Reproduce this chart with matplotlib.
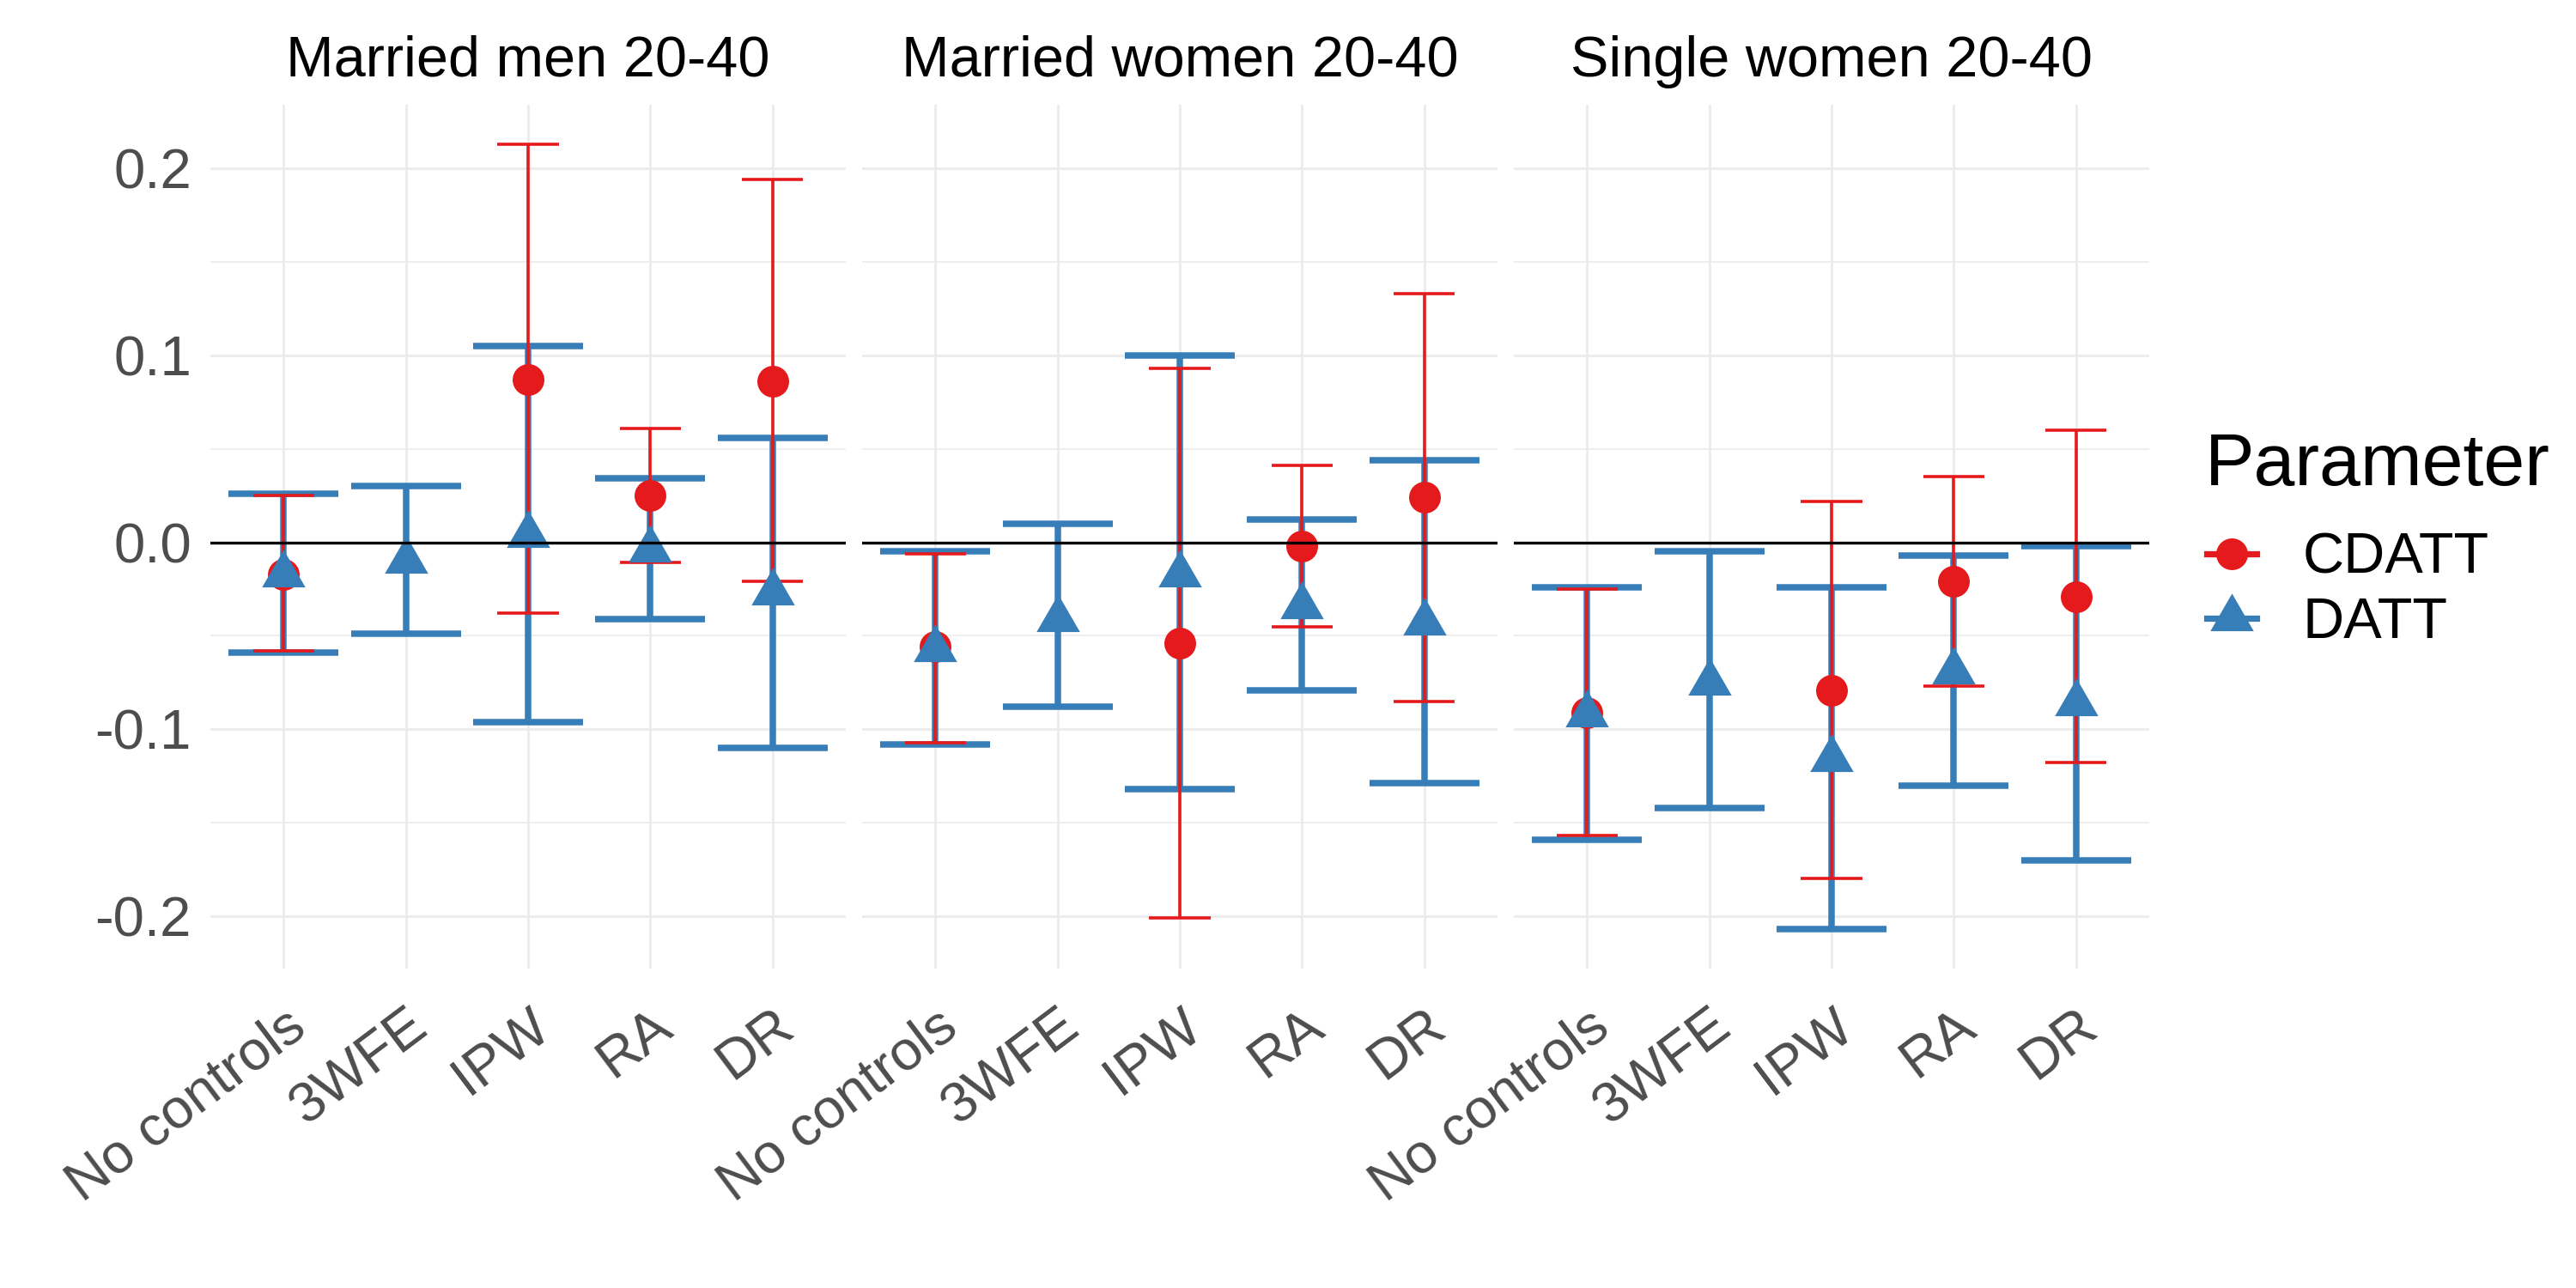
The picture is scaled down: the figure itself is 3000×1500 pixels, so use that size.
import matplotlib
matplotlib.use("Agg")
import matplotlib.pyplot as plt
from matplotlib.path import Path
from matplotlib.lines import Line2D
import numpy as np

plt.rcParams['font.family'] = ['Liberation Sans', 'DejaVu Sans']

# ---------------- data ----------------
panels = ["Married men 20-40", "Married women 20-40", "Single women 20-40"]
methods = ["No controls", "3WFE", "IPW", "RA", "DR"]

# DATT: estimates for all five methods
datt_est = [[-0.017, -0.010, 0.004, -0.004, -0.027],
            [-0.057, -0.041, -0.017, -0.034, -0.043],
            [-0.092, -0.075, -0.116, -0.069, -0.086]]
datt_lo = [[-0.059, -0.049, -0.096, -0.041, -0.110],
           [-0.108, -0.088, -0.132, -0.079, -0.129],
           [-0.159, -0.142, -0.207, -0.130, -0.170]]
datt_hi = [[0.026, 0.030, 0.105, 0.034, 0.056],
           [-0.005, 0.010, 0.100, 0.012, 0.044],
           [-0.024, -0.005, -0.024, -0.007, -0.002]]

# CDATT: no 3WFE estimate
cdatt_methods = ["No controls", "IPW", "RA", "DR"]
cdatt_est = [[-0.017, 0.087, 0.025, 0.086],
             [-0.056, -0.054, -0.002, 0.024],
             [-0.091, -0.079, -0.021, -0.029]]
cdatt_lo = [[-0.058, -0.038, -0.011, -0.021],
            [-0.107, -0.201, -0.045, -0.085],
            [-0.157, -0.180, -0.077, -0.118]]
cdatt_hi = [[0.025, 0.213, 0.061, 0.194],
            [-0.006, 0.093, 0.041, 0.133],
            [-0.025, 0.022, 0.035, 0.060]]

y_major = [-0.2, -0.1, 0.0, 0.1, 0.2]
y_minor = [-0.15, -0.05, 0.05, 0.15]
y_labels = ["-0.2", "-0.1", "0.0", "0.1", "0.2"]

legend_title = "Parameter"
series_names = ["CDATT", "DATT"]

# ---------------- style ----------------
RED = "#E41A1C"
BLUE = "#377EB8"
GRID = "#EBEBEB"
TXT = "#4D4D4D"

tri = Path([(0, 1), (-0.8660254, -0.5), (0.8660254, -0.5), (0, 1)],
           [Path.MOVETO, Path.LINETO, Path.LINETO, Path.CLOSEPOLY])

fig = plt.figure(figsize=(15, 7.5), dpi=200)
W, H = 3000.0, 1500.0
pw = 740
lefts = [245, 1004, 1763]
top_px, bot_px = 122, 1128

all_lo = min(min(min(r) for r in datt_lo), min(min(r) for r in cdatt_lo))
all_hi = max(max(max(r) for r in datt_hi), max(max(r) for r in cdatt_hi))
rng = all_hi - all_lo
ylim = (all_lo - 0.05 * rng, all_hi + 0.05 * rng)

xpos = {m: i + 1 for i, m in enumerate(methods)}

for p, title in enumerate(panels):
    ax = fig.add_axes([lefts[p] / W, 1 - bot_px / H, pw / W, (bot_px - top_px) / H])
    ax.set_xlim(0.4, len(methods) + 0.6)
    ax.set_ylim(*ylim)
    for s in ax.spines.values():
        s.set_visible(False)
    ax.set_yticks(y_major)
    ax.set_yticks(y_minor, minor=True)
    ax.set_xticks(range(1, len(methods) + 1))
    ax.grid(True, which='major', color=GRID, lw=1.0, zorder=0)
    ax.grid(True, which='minor', axis='y', color=GRID, lw=0.6, zorder=0)
    ax.set_axisbelow(True)
    ax.tick_params(which='both', length=0)
    if p == 0:
        ax.set_yticklabels(y_labels, fontsize=23.5, color=TXT)
        ax.tick_params(axis='y', pad=8)
    else:
        ax.set_yticklabels([])
    ax.set_xticklabels(methods, fontsize=23.5, color=TXT, rotation=37,
                       ha='right', va='top', rotation_mode='anchor')
    ax.tick_params(axis='x', pad=13)
    ax.set_title(title, fontsize=24, color='black', pad=12)

    # DATT error bars (blue)
    xd = np.array([xpos[m] for m in methods], dtype=float)
    ax.vlines(xd, datt_lo[p], datt_hi[p], color=BLUE, lw=2.7, capstyle='butt', zorder=2)
    ax.hlines(datt_lo[p], xd - 0.45, xd + 0.45, color=BLUE, lw=2.7, capstyle='butt', zorder=2)
    ax.hlines(datt_hi[p], xd - 0.45, xd + 0.45, color=BLUE, lw=2.7, capstyle='butt', zorder=2)
    # CDATT error bars (red)
    xc = np.array([xpos[m] for m in cdatt_methods], dtype=float)
    ax.vlines(xc, cdatt_lo[p], cdatt_hi[p], color=RED, lw=1.3, capstyle='butt', zorder=3)
    ax.hlines(cdatt_lo[p], xc - 0.25, xc + 0.25, color=RED, lw=1.3, capstyle='butt', zorder=3)
    ax.hlines(cdatt_hi[p], xc - 0.25, xc + 0.25, color=RED, lw=1.3, capstyle='butt', zorder=3)
    # points
    ax.plot(xc, cdatt_est[p], ls='none', marker='o', ms=13.3, color=RED, mec='none', zorder=4)
    ax.plot(xd, datt_est[p], ls='none', marker=tri, ms=21, color=BLUE, mec='none', zorder=5)
    ax.axhline(0, color='black', lw=1.2, zorder=6)

# legend: title as text, entries as legend
fig.text(2568 / W, 1 - 565 / H, legend_title, fontsize=31, color='black',
         ha='left', va='baseline')
handles = [Line2D([], [], color=RED, lw=2.6, marker='o', ms=13.3, mec='none'),
           Line2D([], [], color=BLUE, lw=2.6, marker=tri, ms=21, mec='none')]
leg = fig.legend(handles, series_names, loc='upper left',
                 bbox_to_anchor=(2570 / W, 1 - 620 / H), frameon=False,
                 fontsize=24, handlelength=0.87,
                 handletextpad=0.8, labelspacing=0.2, borderpad=0,
                 borderaxespad=0)

fig.savefig("out.png", dpi=200, facecolor='white')
